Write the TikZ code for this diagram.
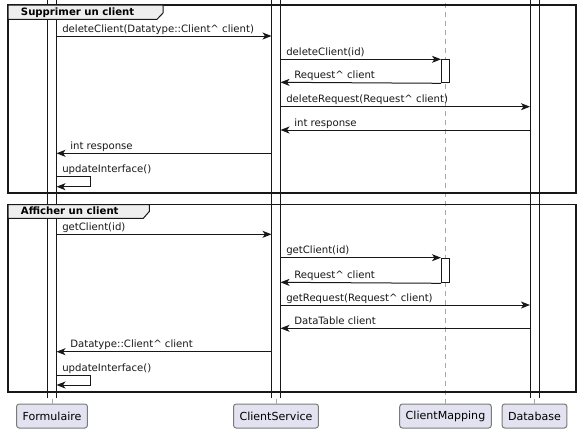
\documentclass[tikz,border=0pt]{standalone}
\usepackage{fontspec}
\setmainfont{DejaVu Sans}
\usetikzlibrary{arrows.meta, positioning}

\definecolor{umlline}{HTML}{181818}
\definecolor{umlbox}{HTML}{E2E2F0}
\definecolor{umltab}{HTML}{EEEEEE}
\definecolor{umldash}{HTML}{A8A8A8}
\definecolor{umlborder}{HTML}{7A7A7A}

\tikzset{
  actor/.style={draw=umlborder, fill=umlbox, rounded corners=2pt, line width=0.75pt,
    minimum height=18pt, inner xsep=4.5pt, font=\fontsize{8.3}{10}\selectfont},
  lifeline/.style={umldash, line width=0.75pt, dash pattern=on 3.75pt off 3pt},
  bar/.style={draw=umlline, fill=white, line width=0.75pt, minimum width=6pt,
    inner sep=0pt, anchor=north},
  longbar/.style={bar, draw=none},
  barside/.style={umlline, line width=0.75pt},
  msg/.style={umlline, line width=0.75pt,
    -{Stealth[length=6.75pt,width=5.25pt,inset=1.8pt]}},
  lbl/.style={anchor=base west, inner sep=0pt, text=umlline},
  frame/.style={draw=umlline, line width=1.1pt},
  tab/.style={draw=umlline, fill=umltab, line width=0.75pt},
  tabtext/.style={anchor=base west, inner sep=0pt, font=\fontsize{7.6}{9}\selectfont\bfseries}
}

\begin{document}
\begin{tikzpicture}[x=0.75pt,y=-0.75pt,font=\fontsize{7.6}{9}\selectfont]
\useasboundingbox (0,0) rectangle (582,430);

% participants
\node[actor] (Formulaire) at (52,416) {Formulaire};
\node[actor] (ClientService) at (276,416) {ClientService};
\node[actor] (ClientMapping) at (445.5,416) {ClientMapping};
\node[actor] (Database) at (534.5,416) {Database};

% lifelines
\foreach \p in {Formulaire,ClientService,ClientMapping,Database}
  \draw[lifeline] (\p.north) -- (\p.north |- 0,-5);

% activation bars (open at the bottom)
\node[longbar, minimum height=301.5pt] (formBar) at (Formulaire |- 0,-5) {};
\node[longbar, minimum height=301.5pt] (servBar) at (ClientService |- 0,-5) {};
\node[longbar, minimum height=301.5pt] (baseBar) at (Database |- 0,-5) {};
\foreach \b in {formBar,servBar,baseBar} {
  \draw[barside] (\b.north west) -- (\b.south west);
  \draw[barside] (\b.north east) -- (\b.south east);
}
\node[bar, minimum height=17.25pt] (mapBarA) at (ClientMapping |- 0,59.3) {};
\node[bar, minimum height=18.45pt] (mapBarB) at (ClientMapping |- 0,257.7) {};

% frame: Supprimer un client
\draw[frame] (8,5) rectangle (576,193);
\draw[tab] (8,5) -- (163,5) -- (163,13) -- (157,19.3) -- (8,19.3) -- cycle;
\node[tabtext] (delTitle) at (20.7,15.5) {Supprimer un client};

\draw[msg] (formBar.east |- 0,36) -- (servBar.west |- 0,36);
\node[lbl] (delMsgA) at (62,32) {deleteClient(Datatype::Client\textasciicircum{} client)};
\draw[msg] (servBar.east |- 0,59.3) -- (mapBarA.north west);
\node[lbl] (delMsgB) at (286,55.3) {deleteClient(id)};
\draw[msg] (mapBarA.south west) -- (servBar.east |- 0,82.3);
\node[lbl] (delMsgC) at (294,78.3) {Request\textasciicircum{} client};
\draw[msg] (servBar.east |- 0,106.7) -- (baseBar.west |- 0,106.7);
\node[lbl] (delMsgD) at (286,102.7) {deleteRequest(Request\textasciicircum{} client)};
\draw[msg] (baseBar.west |- 0,130) -- (servBar.east |- 0,130);
\node[lbl] (delMsgE) at (294,126) {int response};
\draw[msg] (servBar.west |- 0,153.3) -- (formBar.east |- 0,153.3);
\node[lbl] (delMsgF) at (70,149.3) {int response};
\draw[msg] (formBar.east |- 0,176.7) -- ++(34,0) -- ++(0,10) -- (formBar.east |- 0,186.7);
\node[lbl] (delMsgG) at (62,172.7) {updateInterface()};

% frame: Afficher un client
\draw[frame] (8,204.5) rectangle (576,392);
\draw[tab] (8,204.5) -- (149.3,204.5) -- (149.3,211.5) -- (143.3,218.3) -- (8,218.3) -- cycle;
\node[tabtext] (getTitle) at (20.7,214.5) {Afficher un client};

\draw[msg] (formBar.east |- 0,234.3) -- (servBar.west |- 0,234.3);
\node[lbl] (getMsgA) at (62,230.3) {getClient(id)};
\draw[msg] (servBar.east |- 0,257.7) -- (mapBarB.north west);
\node[lbl] (getMsgB) at (286,253.7) {getClient(id)};
\draw[msg] (mapBarB.south west) -- (servBar.east |- 0,282.3);
\node[lbl] (getMsgC) at (294,278.3) {Request\textasciicircum{} client};
\draw[msg] (servBar.east |- 0,305) -- (baseBar.west |- 0,305);
\node[lbl] (getMsgD) at (286,301) {getRequest(Request\textasciicircum{} client)};
\draw[msg] (baseBar.west |- 0,328.3) -- (servBar.east |- 0,328.3);
\node[lbl] (getMsgE) at (294,324.3) {DataTable client};
\draw[msg] (servBar.west |- 0,351.7) -- (formBar.east |- 0,351.7);
\node[lbl] (getMsgF) at (70,347.7) {Datatype::Client\textasciicircum{} client};
\draw[msg] (formBar.east |- 0,375) -- ++(34,0) -- ++(0,10) -- (formBar.east |- 0,385);
\node[lbl] (getMsgG) at (62,371) {updateInterface()};
\end{tikzpicture}
\end{document}
